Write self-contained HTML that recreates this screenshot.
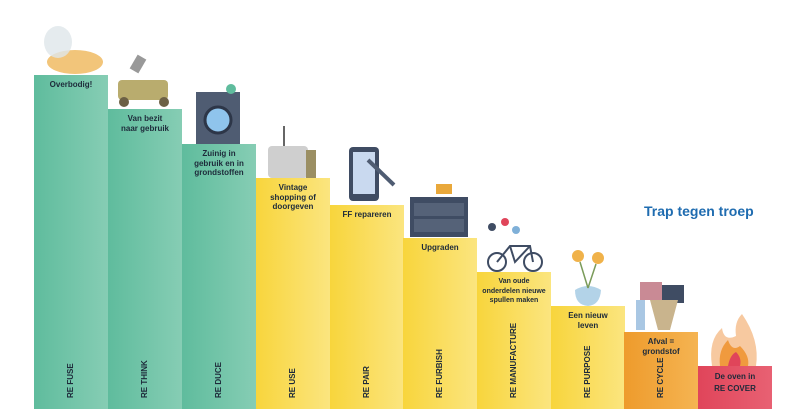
<!DOCTYPE html>
<html><head><meta charset="utf-8"><style>
body{margin:0;width:809px;height:416px;background:#fff;position:relative;overflow:hidden;font-family:"Liberation Sans",sans-serif}
.b{position:absolute;bottom:7px;width:74px}
.g{background:linear-gradient(90deg,#5fbc9d,#86cdb4)}
.y{background:linear-gradient(90deg,#f8d53c,#fbe57f)}
.o{background:linear-gradient(90deg,#ee9b2c,#f5b452)}
.r{background:linear-gradient(90deg,#e0455a,#e86173)}
.t{position:absolute;top:5px;left:0;width:100%;text-align:center;font-size:8px;font-weight:bold;color:#1d2a3a;line-height:9.5px}
.v{position:absolute;bottom:11px;left:41px;transform-origin:0 100%;transform:rotate(-90deg);white-space:nowrap;font-size:8px;font-weight:bold;color:#1d2a3a;line-height:8px}
.ttl{position:absolute;left:644px;top:203px;font-size:14px;font-weight:bold;color:#1f6cb0}
</style></head><body>
<div class="b g" style="left:34px;top:75px"><div class="t">Overbodig!</div><div class="v">RE FUSE</div></div>
<div class="b g" style="left:108px;top:109px"><div class="t">Van bezit<br>naar gebruik</div><div class="v">RE THINK</div></div>
<div class="b g" style="left:182px;top:144px"><div class="t">Zuinig in<br>gebruik en in<br>grondstoffen</div><div class="v">RE DUCE</div></div>
<div class="b y" style="left:256px;top:178px"><div class="t">Vintage<br>shopping of<br>doorgeven</div><div class="v">RE USE</div></div>
<div class="b y" style="left:330px;top:205px"><div class="t">FF repareren</div><div class="v">RE PAIR</div></div>
<div class="b y" style="left:403px;top:238px"><div class="t">Upgraden</div><div class="v">RE FURBISH</div></div>
<div class="b y" style="left:477px;top:272px"><div class="t" style="font-size:7px">Van oude<br>onderdelen nieuwe<br>spullen maken</div><div class="v">RE MANUFACTURE</div></div>
<div class="b y" style="left:551px;top:306px"><div class="t">Een nieuw<br>leven</div><div class="v">RE PURPOSE</div></div>
<div class="b o" style="left:624px;top:332px"><div class="t">Afval =<br>grondstof</div><div class="v">RE CYCLE</div></div>
<div class="b r" style="left:698px;top:366px"><div class="t" style="line-height:12px">De oven in<br>RE COVER</div></div>
<div class="ttl">Trap tegen troep</div>
<svg width="809" height="416" style="position:absolute;left:0;top:0">
<ellipse cx="75" cy="62" rx="28" ry="12" fill="#f2c57a"/><ellipse cx="58" cy="42" rx="14" ry="16" fill="#dfe6ea" opacity=".8"/>
<rect x="118" y="80" width="50" height="20" rx="4" fill="#b9ac6e"/><circle cx="124" cy="102" r="5" fill="#6c6045"/><circle cx="164" cy="102" r="5" fill="#6c6045"/><rect x="133" y="56" width="10" height="16" fill="#999" transform="rotate(30 138 64)"/>
<rect x="196" y="92" width="44" height="52" fill="#4f5c72"/><circle cx="218" cy="120" r="13" fill="#8fc4ec" stroke="#2d3648" stroke-width="3"/><circle cx="231" cy="89" r="5" fill="#5fbc9d"/>
<rect x="268" y="146" width="40" height="32" rx="4" fill="#cfcfcf"/><rect x="306" y="150" width="10" height="28" fill="#9b8f63"/><line x1="284" y1="146" x2="284" y2="126" stroke="#666" stroke-width="2"/>
<rect x="349" y="147" width="30" height="54" rx="4" fill="#3f4c63"/><rect x="353" y="152" width="22" height="42" fill="#c9d9ef"/><line x1="368" y1="160" x2="394" y2="185" stroke="#4f5c72" stroke-width="4"/>
<rect x="410" y="197" width="58" height="40" fill="#3f4c63"/><rect x="414" y="203" width="50" height="13" fill="#556278"/><rect x="414" y="219" width="50" height="13" fill="#556278"/><rect x="436" y="184" width="16" height="10" fill="#e9a83b"/>
<circle cx="497" cy="262" r="9" fill="none" stroke="#3f4c63" stroke-width="2"/><circle cx="533" cy="262" r="9" fill="none" stroke="#3f4c63" stroke-width="2"/><path d="M497 262 L510 246 L530 246 L533 262 M510 246 L515 262 L530 246" fill="none" stroke="#3f4c63" stroke-width="2"/><circle cx="492" cy="227" r="4" fill="#3f4c63"/><circle cx="505" cy="222" r="4" fill="#e0455a"/><circle cx="516" cy="230" r="4" fill="#7fb0d8"/>
<path d="M575 290 Q588 282 601 290 Q600 305 588 306 Q575 305 575 290Z" fill="#b3d3e8"/><circle cx="578" cy="256" r="6" fill="#f0b24a"/><circle cx="598" cy="258" r="6" fill="#f0b24a"/><path d="M588 288 L580 262 M588 288 L596 264" stroke="#7a9b5a" stroke-width="1.5"/>
<rect x="640" y="282" width="22" height="18" fill="#c98a95"/><rect x="662" y="285" width="22" height="18" fill="#3f4c63"/><path d="M650 300 L678 300 L670 330 L658 330Z" fill="#c9b48d"/><rect x="636" y="300" width="9" height="30" fill="#a9c7e3"/>
<path d="M712 366 Q708 340 722 328 Q724 342 736 336 Q734 322 742 314 Q760 340 756 366Z" fill="#f7c9a0"/><path d="M720 366 Q718 350 728 340 Q732 352 740 346 Q750 356 748 366Z" fill="#f09a3e"/><path d="M728 366 Q730 355 736 352 Q742 358 740 366Z" fill="#e0455a"/>
</svg>
</body></html>
